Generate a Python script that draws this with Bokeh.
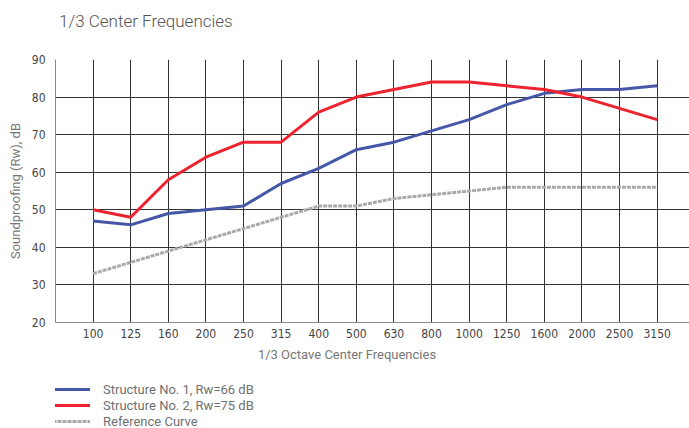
from bokeh.plotting import figure
from bokeh.models import Range1d, FixedTicker, Legend, LegendItem, Div
from bokeh.layouts import column
from bokeh.embed import file_html
from bokeh.resources import INLINE

frequencies = ["100", "125", "160", "200", "250", "315", "400", "500", "630",
               "800", "1000", "1250", "1600", "2000", "2500", "3150"]
structure_1 = [47, 46, 49, 50, 51, 57, 61, 66, 68, 71, 74, 78, 81, 82, 82, 83]
structure_2 = [50, 48, 58, 64, 68, 68, 76, 80, 82, 84, 84, 83, 82, 80, 77, 74]
reference = [33, 36, 39, 42, 45, 48, 51, 51, 53, 54, 55, 56, 56, 56, 56, 56]
y_ticks = [20, 30, 40, 50, 60, 70, 80, 90]

title_text = "1/3 Center Frequencies"
x_label = "1/3 Octave Center Frequencies"
y_label = "Soundproofing (Rw), dB"
series_names = ["Structure No. 1, Rw=66 dB", "Structure No. 2, Rw=75 dB", "Reference Curve"]
series_colors = ["#4757a7", "#ee2330", "#a9a9a9"]
series_dash = ["solid", "solid", "4 1"]

idx = list(range(len(frequencies)))
TICK_FONT = "'Liberation Sans Narrow', 'DejaVu Sans Condensed', Roboto"

title_div = Div(text=title_text, width=689, height=42, margin=(0, 0, 0, 0),
                styles={"font-family": "Roboto", "font-size": "17px", "font-weight": "300",
                        "color": "#555555",
                        "line-height": "42px", "padding-left": "59px",
                        "box-sizing": "border-box", "white-space": "nowrap"})

p = figure(width=689, height=298, output_backend="svg", toolbar_location=None,
           x_range=Range1d(-1, 15.86), y_range=Range1d(20, 90),
           min_border_left=55, min_border_right=0, min_border_top=17, min_border_bottom=18)

p.outline_line_color = None
p.background_fill_color = "white"

p.xaxis.ticker = FixedTicker(ticks=idx)
p.xaxis.major_label_overrides = {i: f for i, f in zip(idx, frequencies)}
p.yaxis.ticker = FixedTicker(ticks=y_ticks)

for ax in (p.xaxis, p.yaxis):
    ax.major_tick_line_color = None
    ax.minor_tick_line_color = None
    ax.major_tick_out = 0
    ax.major_tick_in = 0
    ax.minor_tick_out = 0
    ax.minor_tick_in = 0
    ax.axis_line_color = "#8a8a8a"
    ax.axis_line_width = 1
    ax.major_label_text_font = TICK_FONT
    ax.major_label_text_font_size = "12px"
    ax.major_label_text_color = "#444444"
    ax.axis_label_text_font = "Roboto"
    ax.axis_label_text_font_size = "13px"
    ax.axis_label_text_font_style = "normal"
    ax.axis_label_text_color = "#777777"

p.yaxis.axis_label = y_label
p.xaxis.major_label_standoff = 6
p.yaxis.major_label_standoff = 10
p.yaxis.axis_label_standoff = 6

p.xgrid.grid_line_color = "#333333"
p.ygrid.grid_line_color = "#333333"
p.xgrid.grid_line_width = 1
p.ygrid.grid_line_width = 1

for ys, c, d in zip([structure_1, structure_2, reference], series_colors, series_dash):
    p.line(idx, ys, line_color=c, line_width=3, line_dash=d, line_join="round")

xlabel_div = Div(text=x_label, width=689, height=30, margin=(0, 0, 0, 0),
                 styles={"font-family": "Roboto", "font-size": "13px", "color": "#777777",
                         "line-height": "30px", "text-align": "center", "padding-left": "5px",
                         "box-sizing": "border-box", "white-space": "nowrap", "width": "689px"})

# legend figure (legend glyphs need renderers with data; NaN keeps them invisible)
lg = figure(width=689, height=58, output_backend="svg", toolbar_location=None,
            x_range=Range1d(0, 1), y_range=Range1d(0, 1),
            x_axis_type=None, y_axis_type=None,
            min_border=0, min_border_left=0, min_border_right=0,
            min_border_top=0, min_border_bottom=0)
lg.grid.visible = False
lg.outline_line_color = None

nan = float("nan")
items = []
for name, c, d in zip(series_names, series_colors, series_dash):
    r = lg.line([nan], [nan], line_color=c, line_width=3, line_dash=d)
    items.append(LegendItem(label=name, renderers=[r]))

legend = Legend(items=items, location=(-3, -1), orientation="vertical",
                margin=0, padding=0, spacing=0,
                glyph_width=38, glyph_height=16, label_height=16,
                label_standoff=13, label_text_font="Roboto",
                label_text_font_size="13px", label_text_color="#707070",
                border_line_color=None, background_fill_alpha=0)
lg.add_layout(legend)

layout = column(title_div, p, xlabel_div, lg, spacing=0)
open("out.html", "w").write(file_html(layout, INLINE))
